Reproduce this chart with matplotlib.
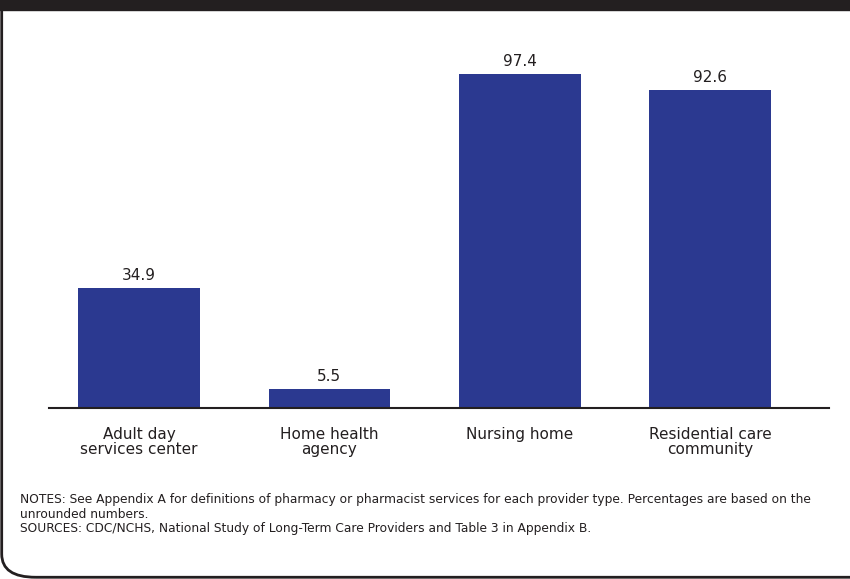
import matplotlib.pyplot as plt
from matplotlib.patches import FancyBboxPatch, Rectangle

categories = ['Adult day\nservices center', 'Home health\nagency', 'Nursing home', 'Residential care\ncommunity']
values = [34.9, 5.5, 97.4, 92.6]
bar_color = '#2b3990'

fig = plt.figure(figsize=(8.5, 5.79), dpi=100)
fig.patch.set_facecolor('white')

# frame: black strip on top, rounded border around the rest
fig.add_artist(Rectangle((0, 0.982), 1, 0.02, transform=fig.transFigure, color='#231f20', zorder=5))
fig.add_artist(FancyBboxPatch((0.002, 0.003), 1.2, 1.2, boxstyle='round,pad=0,rounding_size=0.04',
                              transform=fig.transFigure, fill=False, edgecolor='#231f20', lw=2))

ax = fig.add_axes([0.0576, 0.2953, 0.9177, 0.5924])
x = range(len(values))
ax.bar(x, values, width=0.64, color=bar_color)
for i, v in zip(x, values):
    ax.text(i, v + 1.5, f'{v}', ha='center', va='bottom', fontsize=11, color='#231f20')

ax.set_ylim(0, 100)
ax.set_xlim(-0.474, 3.626)
ax.set_yticks([])
ax.set_xticks(list(x))
ax.set_xticklabels(categories, fontsize=11, color='#231f20', linespacing=1.0)
ax.tick_params(axis='x', length=0, pad=14)
for s in ['top', 'right', 'left']:
    ax.spines[s].set_visible(False)
ax.spines['bottom'].set_color('#231f20')
ax.spines['bottom'].set_linewidth(1.5)

fig.text(0.024, 0.148, 'NOTES: See Appendix A for definitions of pharmacy or pharmacist services for each provider type. '
         'Percentages are based on the\nunrounded numbers.\n'
         'SOURCES: CDC/NCHS, National Study of Long-Term Care Providers and Table 3 in Appendix B.',
         fontsize=8.8, color='#231f20', va='top', linespacing=1.15)

fig.savefig('out.png', dpi=100)
